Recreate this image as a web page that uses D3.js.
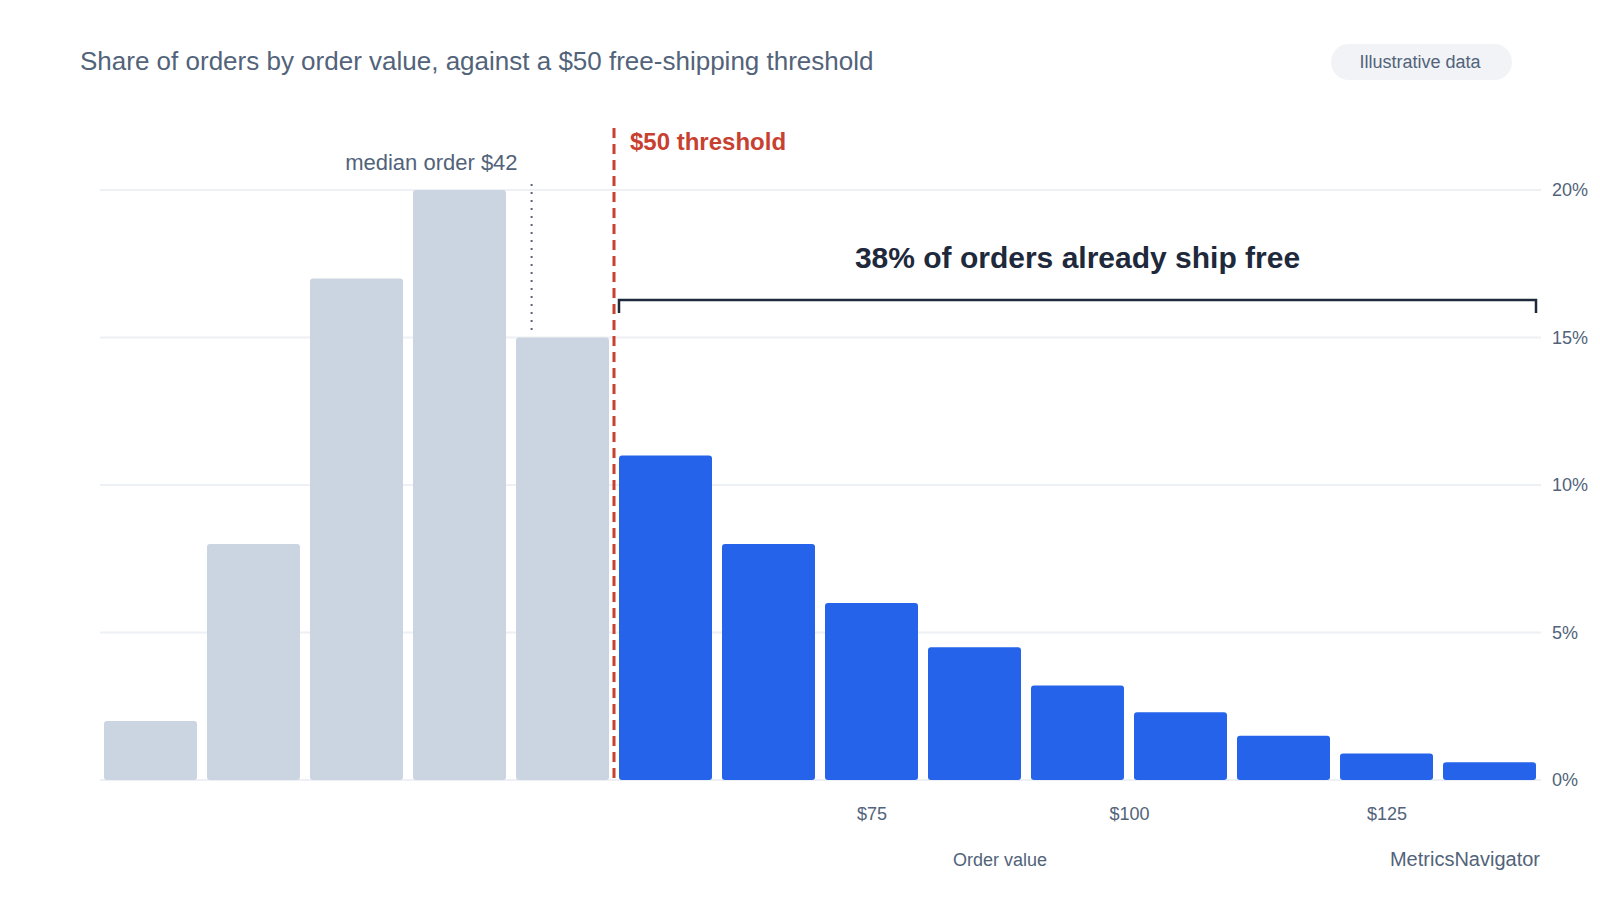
<!DOCTYPE html>
<html>
<head>
<meta charset="utf-8">
<script src="https://cdn.jsdelivr.net/npm/d3@7"></script>
<style>
  html, body { margin: 0; padding: 0; background: #ffffff; }
  svg { display: block; font-family: "Liberation Sans", Arial, sans-serif; }
</style>
</head>
<body>
<div id="chart"></div>
<script>
// Order value bins ($10 wide) and share of orders in each (%)
const binStarts = [0, 10, 20, 30, 40, 50, 60, 70, 80, 90, 100, 110, 120, 130];
const shares = [2, 8, 17, 20, 15, 11, 8, 6, 4.5, 3.2, 2.3, 1.5, 0.9, 0.6];
const yTicks = [0, 5, 10, 15, 20];
const xTicks = [75, 100, 125];
const threshold = 50;
const median = 42;
const shipFreeShare = 38;

const width = 1600;
const height = 900;
const binWidth = 10;

const svg = d3.select('#chart')
    .append('svg')
    .attr('width', width)
    .attr('height', height);

// Scales
const x = d3.scaleLinear()
    .domain([0, 140])
    .range([99, 1541]);

const y = d3.scaleLinear()
    .domain([0, 20])
    .range([780, 190]);

const textColor = '#52637a';

// Title
svg.append('text')
    .attr('x', 80)
    .attr('y', 70)
    .attr('font-size', 26)
    .attr('fill', textColor)
    .text('Share of orders by order value, against a $50 free-shipping threshold');

// Badge
const badge = svg.append('g');
badge.append('rect')
    .attr('x', 1331)
    .attr('y', 44)
    .attr('width', 181)
    .attr('height', 36)
    .attr('rx', 18)
    .attr('fill', '#f1f3f6');
badge.append('text')
    .attr('x', 1420)
    .attr('y', 68)
    .attr('text-anchor', 'middle')
    .attr('font-size', 18)
    .attr('fill', textColor)
    .text('Illustrative data');

// Gridlines
svg.append('g')
    .selectAll('line')
    .data(yTicks)
    .join('line')
    .attr('x1', 100)
    .attr('x2', 1541)
    .attr('y1', d => y(d))
    .attr('y2', d => y(d))
    .attr('stroke', '#edf0f4')
    .attr('stroke-width', 2);

// Y axis on the right
const yAxis = svg.append('g')
    .attr('transform', 'translate(1541,0)')
    .call(d3.axisRight(y).tickValues(yTicks).tickFormat(d => d + '%').tickSize(0).tickPadding(11));
yAxis.select('.domain').remove();
yAxis.selectAll('text')
    .attr('font-family', '"Liberation Sans", Arial, sans-serif')
    .attr('font-size', 18)
    .attr('fill', textColor);

// X axis labels
const xAxis = svg.append('g')
    .attr('transform', 'translate(0,780)')
    .call(d3.axisBottom(x).tickValues(xTicks).tickFormat(d => '$' + d).tickSize(0).tickPadding(27));
xAxis.select('.domain').remove();
xAxis.selectAll('text')
    .attr('font-family', '"Liberation Sans", Arial, sans-serif')
    .attr('font-size', 18)
    .attr('fill', textColor);

// Bars
const barGap = 5;
svg.append('g')
    .selectAll('rect')
    .data(binStarts.map((b, i) => ({ start: b, share: shares[i] })))
    .join('rect')
    .attr('x', d => x(d.start) + barGap)
    .attr('y', d => y(d.share))
    .attr('width', d => x(d.start + binWidth) - x(d.start) - barGap * 2)
    .attr('height', d => y(0) - y(d.share))
    .attr('rx', 3)
    .attr('fill', d => d.start >= threshold ? '#2563eb' : '#cbd5e1');

// Median marker
svg.append('line')
    .attr('x1', x(median))
    .attr('x2', x(median))
    .attr('y1', 184)
    .attr('y2', 330)
    .attr('stroke', '#5b6678')
    .attr('stroke-width', 2)
    .attr('stroke-dasharray', '2,6');

svg.append('text')
    .attr('x', x(median) - 14)
    .attr('y', 170)
    .attr('text-anchor', 'end')
    .attr('font-size', 22)
    .attr('fill', textColor)
    .text('median order $' + median);

// Threshold line
svg.append('line')
    .attr('x1', x(threshold))
    .attr('x2', x(threshold))
    .attr('y1', 128)
    .attr('y2', 780)
    .attr('stroke', '#c8402f')
    .attr('stroke-width', 3)
    .attr('stroke-dasharray', '10,6');

svg.append('text')
    .attr('x', x(threshold) + 16)
    .attr('y', 150)
    .attr('font-size', 24)
    .attr('font-weight', 'bold')
    .attr('fill', '#c8402f')
    .text('$' + threshold + ' threshold');

// Bracket over the free-shipping bins
const bx1 = x(threshold) + barGap;
const bx2 = x(140) - barGap;
svg.append('path')
    .attr('d', `M${bx1},313 V300 H${bx2} V313`)
    .attr('fill', 'none')
    .attr('stroke', '#1e293b')
    .attr('stroke-width', 2.5);

svg.append('text')
    .attr('x', (bx1 + bx2) / 2)
    .attr('y', 268)
    .attr('text-anchor', 'middle')
    .attr('font-size', 30)
    .attr('font-weight', 'bold')
    .attr('fill', '#1e293b')
    .text(shipFreeShare + '% of orders already ship free');

// Axis title and credit
svg.append('text')
    .attr('x', 1000)
    .attr('y', 866)
    .attr('text-anchor', 'middle')
    .attr('font-size', 18)
    .attr('fill', textColor)
    .text('Order value');

svg.append('text')
    .attr('x', 1540)
    .attr('y', 866)
    .attr('text-anchor', 'end')
    .attr('font-size', 20)
    .attr('fill', textColor)
    .text('MetricsNavigator');
</script>
</body>
</html>
